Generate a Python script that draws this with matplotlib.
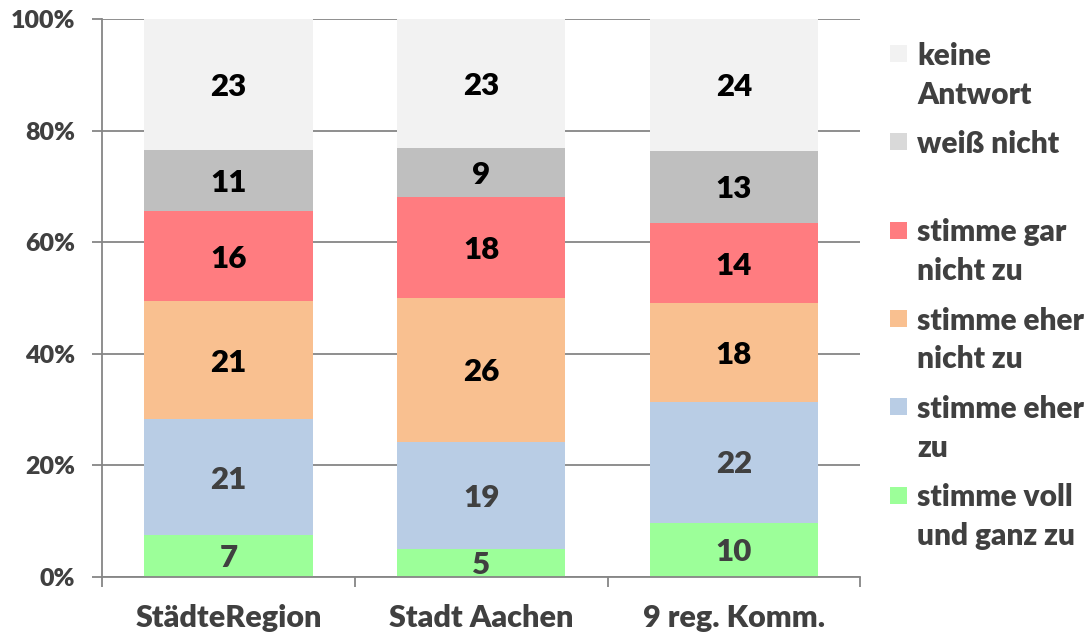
import matplotlib
matplotlib.use("Agg")
from matplotlib import pyplot as plt
from matplotlib.patches import Rectangle

# data (percent shares)
categories = ["StädteRegion", "Stadt Aachen", "9 reg. Komm."]
voll_zu = [7.4, 5.0, 9.7]
eher_zu = [20.8, 19.2, 21.7]
eher_nicht_zu = [21.2, 25.8, 17.6]
gar_nicht_zu = [16.1, 18.1, 14.4]
weiss_nicht = [11.1, 8.8, 13.0]
keine_antwort = [23.4, 23.1, 23.6]
y_ticks = [0, 20, 40, 60, 80, 100]

series = [voll_zu, eher_zu, eher_nicht_zu, gar_nicht_zu, weiss_nicht, keine_antwort]
names = ["stimme voll\nund ganz zu", "stimme eher\nzu", "stimme eher\nnicht zu",
         "stimme gar\nnicht zu", "weiß nicht", "keine\nAntwort"]
colors = ["#9cff99", "#b9cde5", "#f9c090", "#ff7c80", "#bfbfbf", "#f2f2f2"]
legend_colors = ["#9cff99", "#b9cde5", "#f9c090", "#ff7c80", "#d9d9d9", "#f2f2f2"]
label_colors = ["#404040", "#404040", "black", "black", "black", "black"]

TXT = "#404040"
GRID = "#868686"
W, H = 1086, 636
LBL = 22.5

plt.rcParams['font.family'] = ['Lato', 'DejaVu Sans']
plt.rcParams['font.weight'] = 'heavy'

fig = plt.figure(figsize=(W / 100, H / 100), dpi=100)
ax = fig.add_axes([102 / W, 1 - 576.7 / H, (860.3 - 102) / W, (576.7 - 19) / H])

x = list(range(len(categories)))
bottom = [0.0] * len(categories)
for vals, col, lcol in zip(series, colors, label_colors):
    ax.bar(x, vals, width=0.666, bottom=bottom, color=col, edgecolor='none', zorder=2)
    for xi, b, v in zip(x, bottom, vals):
        # digits centred on the segment: baseline shifted down by half the cap height
        ax.annotate(f"{v:.0f}", (xi, b + v / 2), xytext=(0, -0.36 * LBL),
                    textcoords='offset points', ha='center', va='baseline',
                    fontsize=LBL, fontweight='heavy', color=lcol, zorder=3)
    bottom = [b + v for b, v in zip(bottom, vals)]

ax.set_xlim(-0.5, len(categories) - 0.5)
ax.set_ylim(0, 100)

# y axis
ax.set_yticks(y_ticks)
ax.set_yticklabels([f"{t}%" for t in y_ticks])
ax.yaxis.grid(True, color=GRID, linewidth=1.3)
ax.set_axisbelow(True)
ax.tick_params(axis='y', length=7.2, width=1.3, color=GRID, pad=12,
               labelsize=18, labelcolor=TXT)

# x axis
ax.set_xticks(x)
ax.set_xticklabels(categories)
ax.set_xticks([i - 0.5 for i in range(len(categories) + 1)], minor=True)
ax.tick_params(axis='x', which='major', length=0, pad=20, labelsize=22, labelcolor=TXT)
ax.tick_params(axis='x', which='minor', length=7.2, width=1.3, color=GRID)

for s in ['top', 'right']:
    ax.spines[s].set_visible(False)
for s in ['left', 'bottom']:
    ax.spines[s].set_color(GRID)
    ax.spines[s].set_linewidth(1.3)

# legend, drawn by hand to match the layout (top entry first)
for i, k in enumerate(reversed(range(len(series)))):
    cy = 53.6 + 88.3 * i
    fig.add_artist(Rectangle((890.3 / W, 1 - (cy + 8.5) / H), 17 / W, 17 / H,
                             transform=fig.transFigure, facecolor=legend_colors[k],
                             edgecolor='none'))
    for j, line in enumerate(names[k].split("\n")):
        fig.text(917 / W, 1 - (cy + 11 + 39 * j) / H, line, ha='left', va='baseline',
                 fontsize=21.5, fontweight='heavy', color=TXT)

fig.savefig("out.png", dpi=100)
